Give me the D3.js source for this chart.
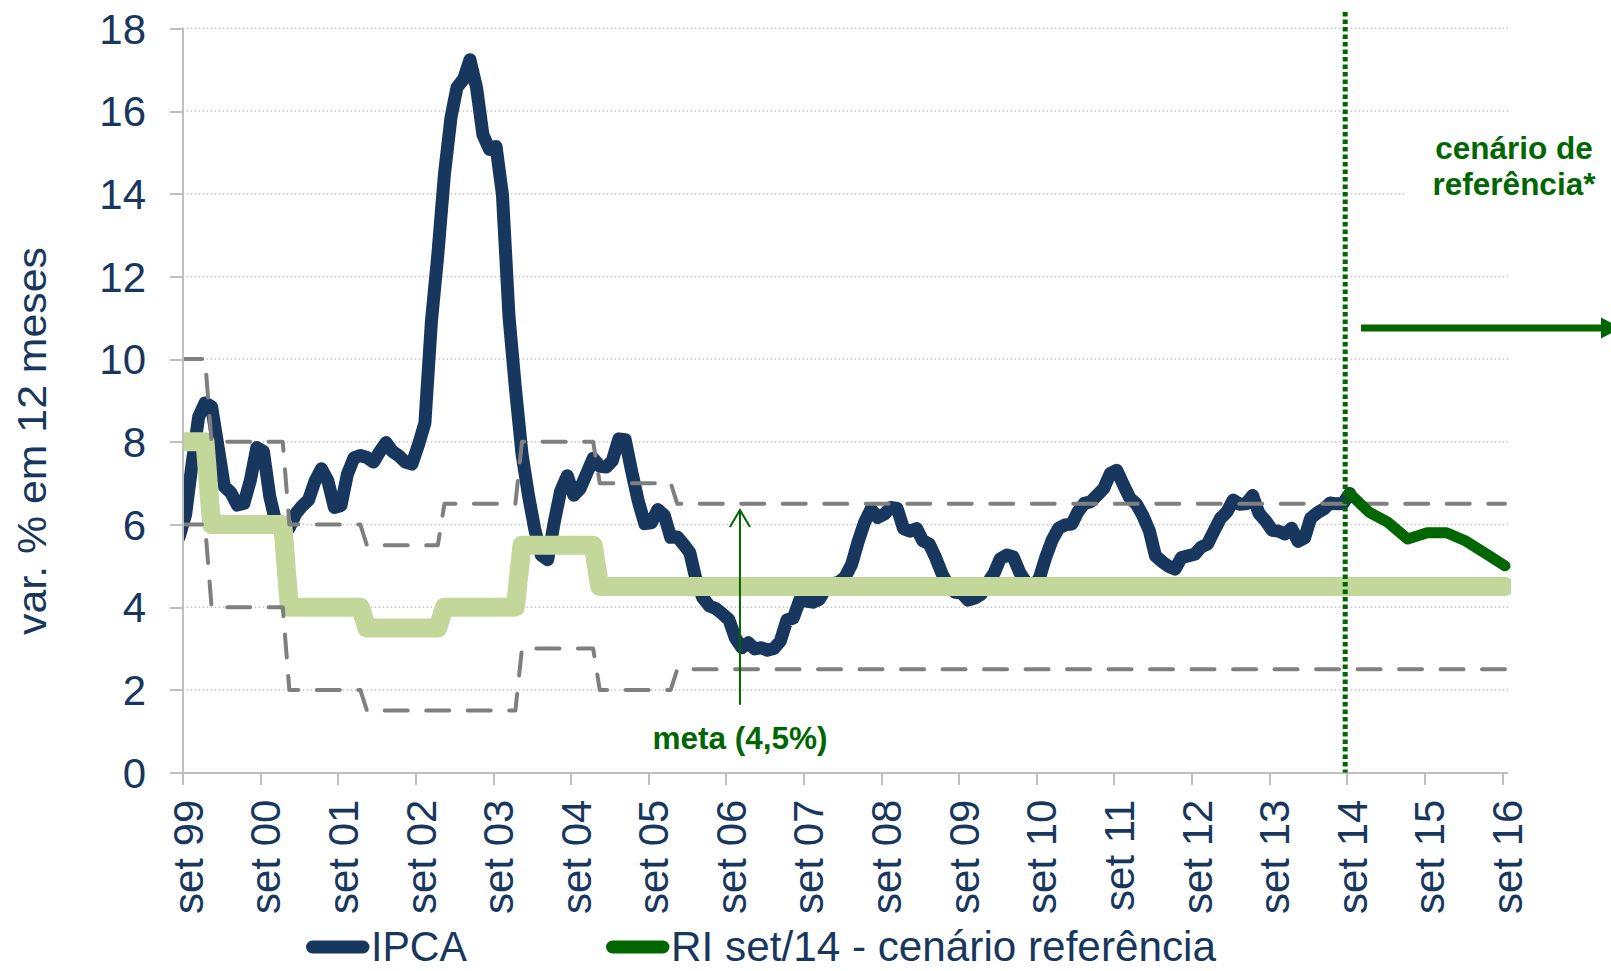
<!DOCTYPE html>
<meta charset="utf-8">
<style>
body { margin: 0; background: #fff; }
svg { display: block; font-family: "Liberation Sans", Arial, sans-serif; }
.axis path, .axis line { fill: none; stroke: #bfbfbf; stroke-width: 2; shape-rendering: crispEdges; }
.axis text { fill: #17375e; font-size: 42px; font-family: "Liberation Sans", Arial, sans-serif; }
.grid { stroke: #c4c4c4; stroke-width: 1.5; stroke-dasharray: 1.5,2.5; }
.note { fill: #006600; font-weight: bold; font-size: 31.5px; text-anchor: middle; }
</style>
<body>
<script src="https://d3js.org/d3.v7.min.js"></script>
<script>

var width = 1611, height = 971;
var plotLeft = 182.7, plotRight = 1502, plotTop = 28.3, plotBottom = 772.6;

// IPCA, var. % em 12 meses, monthly from ago/99 to set/14
var ipcaStart = "1999-08";
var ipca = [
  5.69, 6.25, 7.46, 8.60, 8.94,
  8.85, 7.86, 6.92, 6.77, 6.47, 6.51, 7.06, 7.86, 7.77, 6.67, 6.00, 5.97,
  5.92, 6.27, 6.44, 6.59, 7.04, 7.35, 7.06, 6.41, 6.46, 7.21, 7.61, 7.67,
  7.62, 7.51, 7.75, 7.98, 7.77, 7.66, 7.51, 7.46, 7.93, 8.45, 10.93, 12.53,
  14.47, 15.85, 16.57, 16.77, 17.24, 16.57, 15.43, 15.07, 15.14, 13.98, 11.02, 9.30,
  7.71, 6.69, 5.89, 5.26, 5.15, 6.06, 6.81, 7.18, 6.71, 6.87, 7.24, 7.60,
  7.41, 7.39, 7.54, 8.07, 8.05, 7.27, 6.57, 6.02, 6.04, 6.36, 6.22, 5.69,
  5.70, 5.51, 5.32, 4.63, 4.23, 4.03, 3.97, 3.84, 3.70, 3.26, 3.02, 3.14,
  2.99, 3.02, 2.96, 3.00, 3.18, 3.69, 3.74, 4.18, 4.15, 4.12, 4.19, 4.46,
  4.56, 4.61, 4.73, 5.04, 5.58, 6.06, 6.37, 6.17, 6.25, 6.41, 6.39, 5.90,
  5.84, 5.90, 5.61, 5.53, 5.20, 4.80, 4.50, 4.36, 4.34, 4.17, 4.22, 4.31,
  4.59, 4.83, 5.17, 5.26, 5.22, 4.84, 4.60, 4.49, 4.70, 5.20, 5.63, 5.91,
  5.99, 6.01, 6.30, 6.51, 6.55, 6.71, 6.87, 7.23, 7.31, 6.97, 6.64, 6.50,
  6.22, 5.85, 5.24, 5.10, 4.99, 4.92, 5.20, 5.24, 5.28, 5.45, 5.53, 5.84,
  6.15, 6.31, 6.59, 6.49, 6.50, 6.70, 6.27, 6.09, 5.86, 5.84, 5.77, 5.91,
  5.59, 5.68, 6.15, 6.28, 6.37, 6.52, 6.50, 6.51, 6.75
];

// RI set/14 - cenario de referencia (quarterly)
var riMonths = ["2014-09", "2014-12", "2015-03", "2015-06", "2015-09", "2015-12", "2016-03", "2016-06", "2016-09"];
var ri = [6.75, 6.3, 6.05, 5.65, 5.8, 5.8, 5.6, 5.3, 5.0];

// meta de inflacao and tolerance band, by year
var metaYears = [1999, 2000, 2001, 2002, 2003, 2004, 2005, 2006, 2007, 2008, 2009, 2010, 2011, 2012, 2013, 2014, 2015, 2016];
var meta  = [8, 6, 4, 3.5, 4, 5.5, 4.5, 4.5, 4.5, 4.5, 4.5, 4.5, 4.5, 4.5, 4.5, 4.5, 4.5, 4.5];
var upper = [10, 8, 6, 5.5, 6.5, 8, 7, 6.5, 6.5, 6.5, 6.5, 6.5, 6.5, 6.5, 6.5, 6.5, 6.5, 6.5];
var lower = [6, 4, 2, 1.5, 1.5, 3, 2, 2.5, 2.5, 2.5, 2.5, 2.5, 2.5, 2.5, 2.5, 2.5, 2.5, 2.5];

var yTicks = [0, 2, 4, 6, 8, 10, 12, 14, 16, 18];
var yearTicks = d3.range(1999, 2017);

var parseMonth = d3.timeParse("%Y-%m");
function mid(d) { return new Date(d.getFullYear(), d.getMonth(), 15); }

var x = d3.scaleTime()
    .domain([new Date(1999, 8, 1), new Date(2016, 8, 1)])
    .range([plotLeft, plotRight]);

var y = d3.scaleLinear()
    .domain([0, 18])
    .range([plotBottom, plotTop]);

var ipcaData = ipca.map(function(v, i) {
  return {date: mid(d3.timeMonth.offset(parseMonth(ipcaStart), i)), value: v};
});

var riData = riMonths.map(function(m, i) {
  return {date: mid(parseMonth(m)), value: ri[i]};
});

function stepSeries(vals) {
  var pts = [];
  metaYears.forEach(function(yr, i) {
    var first = i === 0 ? mid(parseMonth(ipcaStart)) : new Date(yr, 0, 15);
    var last = i === metaYears.length - 1 ? new Date(yr, 8, 15) : new Date(yr, 11, 15);
    pts.push({date: first, value: vals[i]});
    pts.push({date: last, value: vals[i]});
  });
  return pts;
}

var line = d3.line()
    .x(function(d) { return x(d.date); })
    .y(function(d) { return y(d.value); });

var svg = d3.select("body").append("svg")
    .attr("width", width)
    .attr("height", height);

svg.append("defs").append("clipPath")
    .attr("id", "plotclip")
  .append("rect")
    .attr("x", plotLeft)
    .attr("y", 0)
    .attr("width", 1511 - plotLeft)
    .attr("height", height);

// gridlines
svg.append("g").selectAll("line")
    .data(yTicks.filter(function(t) { return t > 0; }))
  .enter().append("line")
    .attr("class", "grid")
    .attr("x1", plotLeft)
    .attr("x2", 1508)
    .attr("y1", function(d) { return y(d); })
    .attr("y2", function(d) { return y(d); });

var plot = svg.append("g").attr("clip-path", "url(#plotclip)");

plot.append("path")
    .datum(ipcaData)
    .attr("d", line)
    .attr("fill", "none")
    .attr("stroke", "#17375e")
    .attr("stroke-width", 13)
    .attr("stroke-linejoin", "round")
    .attr("stroke-linecap", "round");

plot.append("path")
    .datum(stepSeries(meta))
    .attr("d", line)
    .attr("fill", "none")
    .attr("stroke", "#c4d79b")
    .attr("stroke-width", 19)
    .attr("stroke-linejoin", "round")
    .attr("stroke-linecap", "round");

[upper, lower].forEach(function(band) {
  plot.append("path")
      .datum(stepSeries(band))
      .attr("d", line)
      .attr("fill", "none")
      .attr("stroke", "#7f7f7f")
      .attr("stroke-width", 4)
      .attr("stroke-dasharray", "23,18.5")
      .attr("stroke-linecap", "round")
      .attr("stroke-linejoin", "round");
});

plot.append("path")
    .datum(riData)
    .attr("d", line)
    .attr("fill", "none")
    .attr("stroke", "#006600")
    .attr("stroke-width", 11)
    .attr("stroke-linejoin", "round")
    .attr("stroke-linecap", "round");

// axes
var yAxis = svg.append("g")
    .attr("class", "axis")
    .attr("transform", "translate(" + plotLeft + ",0)")
    .call(d3.axisLeft(y).tickValues(yTicks).tickSize(12.7).tickSizeOuter(0).tickPadding(24));
yAxis.selectAll("text").attr("dy", "0.35em");

var xAxis = svg.append("g")
    .attr("class", "axis")
    .attr("transform", "translate(0," + plotBottom + ")")
    .call(d3.axisBottom(x)
      .tickValues(yearTicks.map(function(yr) { return new Date(yr, 8, 1); }))
      .tickSize(12)
      .tickSizeOuter(0)
      .tickFormat(function(d) { return "set " + d3.timeFormat("%y")(d); }));
xAxis.select(".domain").remove();
xAxis.selectAll("text")
    .attr("x", 0)
    .attr("y", 0)
    .attr("dy", 0)
    .attr("text-anchor", "end")
    .attr("transform", "translate(19.5,27) rotate(-90)");

xAxis.append("line")
    .attr("x1", plotLeft - 12.7)
    .attr("x2", 1508)
    .attr("y1", 0)
    .attr("y2", 0);

// y title
svg.append("text")
    .attr("transform", "translate(46,441) rotate(-90)")
    .attr("text-anchor", "middle")
    .attr("textLength", 388)
    .attr("lengthAdjust", "spacingAndGlyphs")
    .style("font-size", "40px")
    .style("fill", "#17375e")
    .text("var. % em 12 meses");

// reference scenario marker
var cutX = x(new Date(2014, 8, 1)) - 1.5;
svg.append("line")
    .attr("x1", cutX)
    .attr("x2", cutX)
    .attr("y1", 12)
    .attr("y2", plotBottom)
    .attr("stroke", "#006600")
    .attr("stroke-width", 5)
    .attr("stroke-dasharray", "4.5,3");

svg.append("rect")
    .attr("x", 1406)
    .attr("y", 125)
    .attr("width", width - 1406)
    .attr("height", 78)
    .attr("fill", "#fff");

svg.append("text").attr("class", "note").attr("x", 1514).attr("y", 159).text("cenário de");
svg.append("text").attr("class", "note").attr("x", 1514).attr("y", 195).text("referência*");

var arrowY = y(10.75);
svg.append("line")
    .attr("x1", 1361)
    .attr("x2", 1603)
    .attr("y1", arrowY)
    .attr("y2", arrowY)
    .attr("stroke", "#006600")
    .attr("stroke-width", 7);
svg.append("path")
    .attr("d", "M1601," + (arrowY - 10.5) + "L1621," + arrowY + "L1601," + (arrowY + 10.5) + "Z")
    .attr("fill", "#006600");

// meta annotation
var metaX = x(new Date(2006, 10, 6));
var tipY = y(6.35), baseY = y(1.64);
svg.append("line")
    .attr("x1", metaX)
    .attr("x2", metaX)
    .attr("y1", baseY)
    .attr("y2", tipY)
    .attr("stroke", "#006600")
    .attr("stroke-width", 2);
svg.append("path")
    .attr("d", "M" + (metaX - 10) + "," + (tipY + 17) + "L" + metaX + "," + tipY + "L" + (metaX + 10) + "," + (tipY + 17))
    .attr("fill", "none")
    .attr("stroke", "#006600")
    .attr("stroke-width", 2);
svg.append("text").attr("class", "note").attr("x", metaX).attr("y", 749).text("meta (4,5%)");

// legend
var legend = [
  {name: "IPCA", color: "#17375e", x: 312.5, len: 96},
  {name: "RI set/14 - cenário referência", color: "#006600", x: 612.5, len: 545}
];
var lg = svg.selectAll(".legend")
    .data(legend)
  .enter().append("g")
    .attr("class", "legend");
lg.append("line")
    .attr("x1", function(d) { return d.x; })
    .attr("x2", function(d) { return d.x + 50.5; })
    .attr("y1", 947)
    .attr("y2", 947)
    .attr("stroke", function(d) { return d.color; })
    .attr("stroke-width", 13)
    .attr("stroke-linecap", "round");
lg.append("text")
    .attr("x", function(d) { return d.x + 58.5; })
    .attr("y", 961)
    .attr("textLength", function(d) { return d.len; })
    .attr("lengthAdjust", "spacingAndGlyphs")
    .style("font-size", "43px")
    .style("fill", "#17375e")
    .text(function(d) { return d.name; });

</script>
